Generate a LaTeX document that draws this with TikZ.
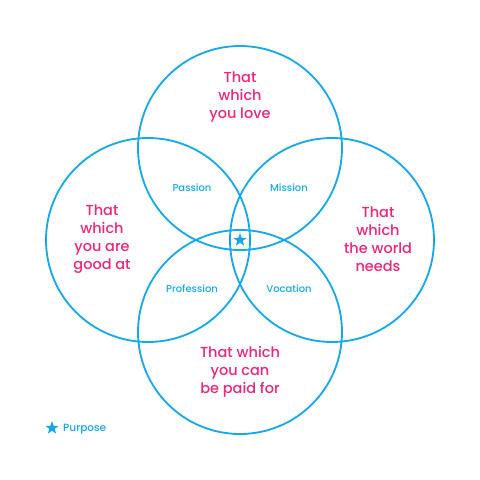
\documentclass[tikz,border=0pt]{standalone}
\usepackage{fontspec}
\setmainfont{Poppins}[UprightFont=* Medium]
\usetikzlibrary{shapes.geometric}
\definecolor{ikblue}{RGB}{20,168,232}
\definecolor{ikpink}{RGB}{238,38,122}
\tikzset{
  circ/.style={draw=ikblue,line width=1.8pt},
  big/.style={text=ikpink,font=\fontsize{14.5}{18}\selectfont,align=center,inner sep=0pt},
  small/.style={text=ikblue,font=\fontsize{10}{12}\selectfont,inner sep=0pt},
  starmark/.style={star,star points=5,star point ratio=2.5,fill=ikblue,inner sep=0pt,minimum size=14pt}
}
\begin{document}
\begin{tikzpicture}[x=1pt,y=-1pt]
\useasboundingbox (0,0) rectangle (480,480);
\fill[white] (0,0) rectangle (480,480);
\draw[circ] (240,148) circle (102);
\draw[circ] (148,240) circle (102);
\draw[circ] (332,240) circle (102);
\draw[circ] (240,332) circle (102);
\node[big] (love) at (240,97) {That\\which\\you love};
\node[big] (good) at (102,239.5) {That\\which\\you are\\good at};
\node[big] (world) at (378,239.5) {That\\which\\the world\\needs};
\node[big] (paid) at (240,372) {That which\\you can\\be paid for};
\node[small] (passion) at (192,188) {Passion};
\node[small] (mission) at (289,188) {Mission};
\node[small] (profession) at (192,289) {Profession};
\node[small] (vocation) at (289,289) {Vocation};
\node[starmark] (center) at (240,240) {};
\node[starmark] (legstar) at (52,428) {};
\node[small,anchor=west,font=\fontsize{10.5}{12}\selectfont] (purpose) at (63,429) {Purpose};
\end{tikzpicture}
\end{document}
